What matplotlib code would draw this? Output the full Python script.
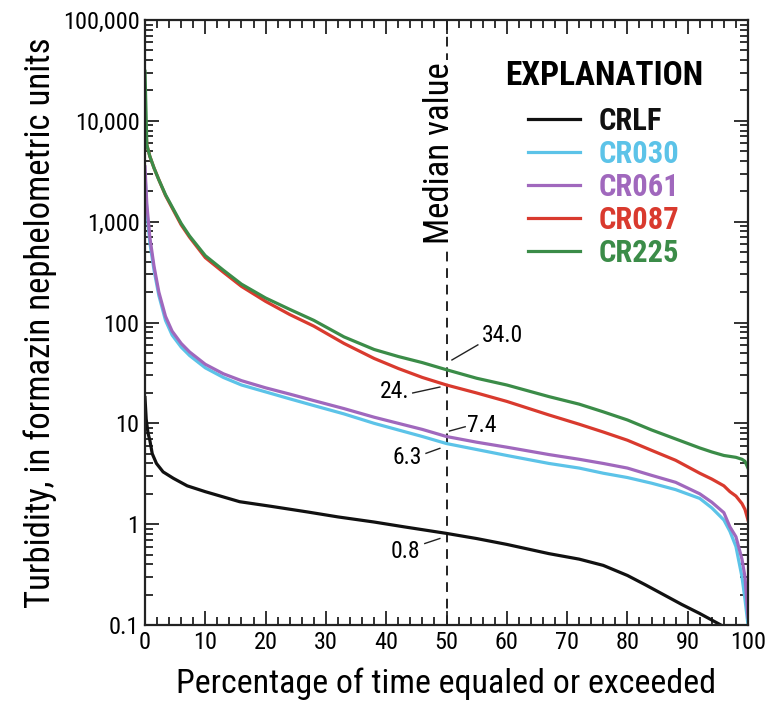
import matplotlib
matplotlib.use("Agg")
import matplotlib.pyplot as plt
from matplotlib import font_manager
from matplotlib.ticker import MultipleLocator, LogLocator, NullFormatter

# ---------------- data ----------------
series_names = ["CRLF", "CR030", "CR061", "CR087", "CR225"]
series_colors = ["#111111", "#5cc3e8", "#a068bd", "#d93a2e", "#3b8c48"]

pct_crlf = [0, 0.2, 0.5, 0.8, 1.2, 1.9, 3, 4.7, 7, 10, 15.7, 21, 27, 32, 38, 43,
            50, 55, 60, 67, 72, 76, 80, 83, 86, 89, 92, 95.5]
crlf = [18, 11, 8, 6.8, 5, 4.0, 3.3, 2.85, 2.4, 2.1, 1.67, 1.5, 1.32, 1.18, 1.05, 0.94,
        0.81, 0.72, 0.63, 0.51, 0.45, 0.39, 0.31, 0.25, 0.2, 0.16, 0.13, 0.1]

pct_sites = [0, 0.3, 0.8, 1.5, 2.3, 3.4, 4.5, 6, 7.4, 10, 13, 16, 20, 24, 28, 33, 38, 42,
             46, 50, 55, 60, 67, 72, 76, 80, 84, 88, 92, 94, 96, 97, 98, 99, 99.5, 100]
cr225 = [31000, 5800, 4450, 3400, 2600, 1850, 1400, 960, 720, 460, 330, 240, 175, 135,
         105, 72, 54, 46, 40, 34.0, 28, 24, 18.4, 15.5, 13, 10.8, 8.6, 7.0, 5.7, 5.2, 4.8,
         4.7, 4.6, 4.4, 4.2, 3.6]
cr087 = [12000, 5800, 4450, 3400, 2600, 1820, 1370, 930, 700, 440, 315, 228, 162, 120,
         92, 62, 44, 35, 28.5, 24.0, 20, 16.5, 12.1, 9.8, 8.2, 6.8, 5.4, 4.3, 3.2, 2.8, 2.4,
         2.1, 1.9, 1.6, 1.4, 1.1]
cr061 = [3500, 1500, 700, 360, 200, 115, 82, 62, 51, 38.5, 31, 26.5, 22.5, 19.5, 16.8, 14,
         11.5, 10.0, 8.7, 7.4, 6.5, 5.8, 4.9, 4.4, 4.0, 3.6, 3.05, 2.6, 2.0, 1.65, 1.3,
         0.94, 0.75, 0.45, 0.3, 0.12]
cr030 = [3000, 1300, 620, 330, 185, 105, 75, 57, 47, 35.5, 28.5, 24, 20.5, 17.5, 15, 12.4,
         10, 8.6, 7.4, 6.3, 5.5, 4.8, 4.0, 3.6, 3.2, 2.9, 2.55, 2.2, 1.8, 1.45, 1.1,
         0.85, 0.6, 0.3, 0.18, 0.1]

median_labels = ["34.0", "24.", "7.4", "6.3", "0.8"]
y_tick_values = [0.1, 1, 10, 100, 1000, 10000, 100000]
y_tick_labels = ["0.1", "1", "10", "100", "1,000", "10,000", "100,000"]
x_tick_values = [0, 10, 20, 30, 40, 50, 60, 70, 80, 90, 100]

# ---------------- fonts ----------------
names = {f.name for f in font_manager.fontManager.ttflist}
fam = "DejaVu Sans"
for cand in ["Roboto Condensed", "Liberation Sans Narrow", "Open Sans Condensed"]:
    if cand in names:
        fam = cand
        break
plt.rcParams["font.family"] = [fam, "DejaVu Sans"]

fig = plt.figure(figsize=(7.71, 7.06), dpi=100)
ax = fig.add_axes([145 / 771, 1 - 625 / 706, (748 - 145) / 771, (625 - 20) / 706])

lw = 2.3
ax.plot(pct_crlf, crlf, color=series_colors[0], lw=lw, label=series_names[0])
ax.plot(pct_sites, cr030, color=series_colors[1], lw=lw, label=series_names[1])
ax.plot(pct_sites, cr061, color=series_colors[2], lw=lw, label=series_names[2])
ax.plot(pct_sites, cr087, color=series_colors[3], lw=lw, label=series_names[3])
ax.plot(pct_sites, cr225, color=series_colors[4], lw=lw, label=series_names[4])

ax.set_yscale("log")
ax.set_xlim(0, 100)
ax.set_ylim(0.1, 100000)

# median line
ax.axvline(50, color="#222222", lw=1.4, ls=(0, (5, 3.5)), zorder=1)
ax.text(48.9, 4800, "Median value", rotation=90, ha="center", va="center", fontsize=25,
        bbox=dict(facecolor="white", edgecolor="none", pad=1.5), zorder=3)

# annotations (text pos, leader start, leader end)
ann = [
    (median_labels[0], (55.9, 75), (50.9, 42.5), (55.2, 60), "left"),
    (median_labels[1], (43.9, 20.5), (48.9, 22.9), (44.4, 20.0), "right"),
    (median_labels[2], (53.4, 9.6), (50.5, 8.39), (53.1, 9.25), "left"),
    (median_labels[3], (45.9, 4.63), (48.9, 5.65), (46.6, 5.04), "right"),
    (median_labels[4], (45.6, 0.54), (48.9, 0.721), (46.4, 0.643), "right"),
]
for lab, tpos, p0, p1, ha in ann:
    ax.plot([p0[0], p1[0]], [p0[1], p1[1]], color="#222222", lw=1.0, zorder=4)
    ax.text(tpos[0], tpos[1], lab, ha=ha, va="center", fontsize=17, zorder=4)

# ticks
ax.set_xticks(x_tick_values)
ax.xaxis.set_minor_locator(MultipleLocator(2))
ax.set_yticks(y_tick_values)
ax.set_yticklabels(y_tick_labels)
ax.yaxis.set_minor_locator(LogLocator(base=10, subs=range(2, 10), numticks=20))
ax.yaxis.set_minor_formatter(NullFormatter())
ax.tick_params(which="both", direction="in", top=True, right=True, width=1.3, colors="#222222")
ax.tick_params(which="major", length=10, labelsize=17.5, pad=4, labelcolor="black")
ax.tick_params(which="minor", length=5.5)
for s in ax.spines.values():
    s.set_linewidth(1.6)
    s.set_color("#222222")

ax.set_xlabel("Percentage of time equaled or exceeded", fontsize=24.5, labelpad=10)
ax.set_ylabel("Turbidity, in formazin nephelometric units", fontsize=25, labelpad=4)

leg = ax.legend(loc="upper right", bbox_to_anchor=(0.925, 0.934), frameon=False,
                title="EXPLANATION", labelcolor="linecolor", handlelength=1.7,
                handletextpad=0.6, labelspacing=0.1, borderaxespad=0, borderpad=0,
                prop=dict(family=[fam, "DejaVu Sans"], weight="bold", size=22),
                title_fontproperties=dict(family=[fam, "DejaVu Sans"], weight="bold", size=24))
leg._legend_box.sep = 10

fig.savefig("out.png", dpi=100, facecolor="white")
